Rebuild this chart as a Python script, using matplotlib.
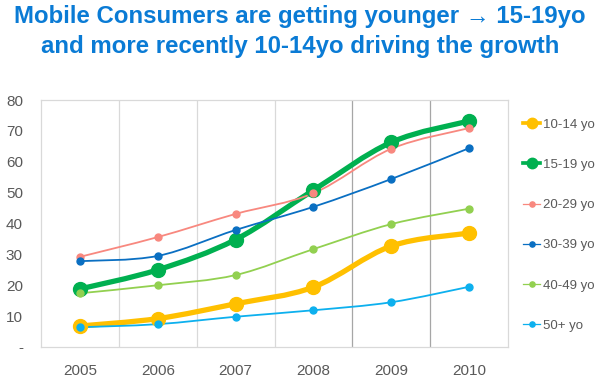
import numpy as np
import matplotlib
matplotlib.use('Agg')
import matplotlib.pyplot as plt
from matplotlib.path import Path
from matplotlib.patches import PathPatch
from matplotlib.lines import Line2D

plt.rcParams['font.family'] = ['Liberation Sans', 'DejaVu Sans']

years = ['2005', '2006', '2007', '2008', '2009', '2010']
groups = ['10-14 yo', '15-19 yo', '20-29 yo', '30-39 yo', '40-49 yo', '50+ yo']
age_10_14 = [6.8, 9.2, 14.0, 19.4, 32.7, 36.9]
age_15_19 = [18.8, 25.0, 34.8, 50.8, 66.3, 73.2]
age_20_29 = [29.2, 35.6, 43.1, 49.8, 64.2, 70.9]
age_30_39 = [27.8, 29.5, 37.9, 45.4, 54.4, 64.4]
age_40_49 = [17.4, 20.0, 23.3, 31.7, 39.8, 44.8]
age_50_plus = [6.4, 7.4, 9.8, 11.9, 14.5, 19.5]
series = [age_10_14, age_15_19, age_20_29, age_30_39, age_40_49, age_50_plus]
colors = ['#FFC000', '#00B050', '#F8887F', '#0A6FC2', '#92D050', '#0DB0EE']
thick = [True, True, False, False, False, False]


def smooth_path(x, y):
    # excel-like smoothed line as cubic bezier segments
    x = np.asarray(x, float)
    y = np.asarray(y, float)
    n = len(x)
    verts = [(x[0], y[0])]
    codes = [Path.MOVETO]
    for i in range(n - 1):
        xp, yp = (x[i - 1], y[i - 1]) if i > 0 else (x[i], y[i])
        xn, yn = (x[i + 2], y[i + 2]) if i + 2 < n else (x[i + 1], y[i + 1])
        c1 = (x[i] + (x[i + 1] - xp) / 6, y[i] + (y[i + 1] - yp) / 6)
        c2 = (x[i + 1] - (xn - x[i]) / 6, y[i + 1] - (yn - y[i]) / 6)
        verts += [c1, c2, (x[i + 1], y[i + 1])]
        codes += [Path.CURVE4] * 3
    return Path(verts, codes)


fig = plt.figure(figsize=(6, 3.8), dpi=100)
ax = fig.add_axes([41 / 600, 1 - 347 / 380, 467 / 600, 247 / 380])

xs = np.arange(len(years))
handles = []
for vals, col, big in zip(series, colors, thick):
    lw = 3.8 if big else 1.3
    ms = 10 if big else 5
    ax.add_patch(PathPatch(smooth_path(xs, vals), fill=False, edgecolor=col,
                           lw=lw, capstyle='round', joinstyle='round'))
    ax.plot(xs, vals, linestyle='none', marker='o', ms=ms, color=col)
    handles.append(Line2D([], [], color=col, lw=lw * 0.7, marker='o', ms=ms * 0.75))

ax.set_xlim(-0.5, 5.5)
ax.set_ylim(0, 80)
ax.set_xticks(xs)
ax.set_xticklabels(years)
ax.set_yticks(np.arange(0, 81, 10))
ax.set_yticklabels(['-'] + [str(v) for v in range(10, 81, 10)])
ax.tick_params(length=0, colors='#595959', labelsize=11)
ax.tick_params(axis='y', pad=13)
ax.tick_params(axis='x', pad=12)

for i, xg in enumerate(np.arange(0.5, 5, 1)):
    ax.axvline(xg, color='#D9D9D9' if i < 3 else '#A6A6A6', lw=0.9, zorder=0)
for sp in ax.spines.values():
    sp.set_color('#D9D9D9')
    sp.set_linewidth(0.9)

leg = fig.legend(handles, groups, loc='upper left', bbox_to_anchor=(520 / 600, 1 - 116 / 380),
                 frameon=False, fontsize=9.5, labelspacing=2.12, handlelength=1.35,
                 handletextpad=0.2, borderaxespad=0, borderpad=0.2)
for t in leg.get_texts():
    t.set_color('#595959')

fig.text(0.5, 1 - 16 / 380, 'Mobile Consumers are getting younger \u2192 15-19yo',
         ha='center', va='center', fontsize=17.3, fontweight='bold', color='#0A7BD5')
fig.text(0.5, 1 - 46 / 380, 'and more recently 10-14yo driving the growth',
         ha='center', va='center', fontsize=17.3, fontweight='bold', color='#0A7BD5')

fig.savefig('out.png', dpi=100)
